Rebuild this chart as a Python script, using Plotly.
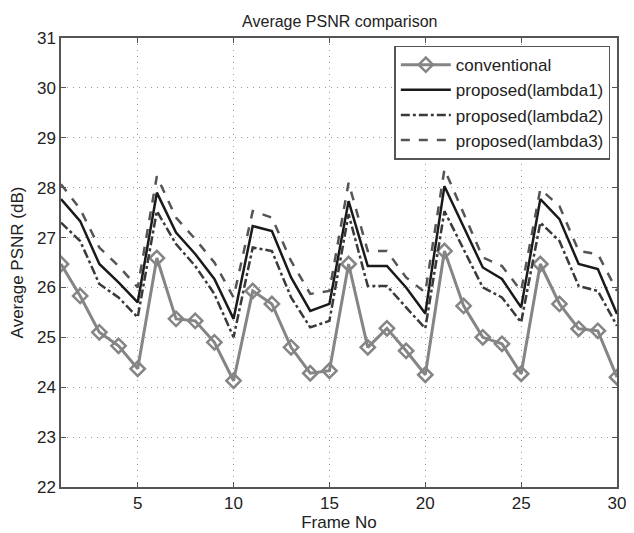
import plotly.graph_objs as go

# frame numbers
frames = list(range(1, 31))

conventional = [26.47, 25.83, 25.10, 24.83, 24.37, 26.59, 25.37, 25.33, 24.90, 24.13,
                25.93, 25.67, 24.80, 24.28, 24.33, 26.47, 24.80, 25.18, 24.73, 24.25,
                26.73, 25.63, 25.00, 24.87, 24.27, 26.47, 25.67, 25.17, 25.13, 24.20]

lambda1 = [27.77, 27.33, 26.47, 26.10, 25.70, 27.90, 27.10, 26.67, 26.17, 25.37,
           27.23, 27.13, 26.20, 25.53, 25.67, 27.73, 26.43, 26.43, 26.00, 25.48,
           28.03, 27.20, 26.40, 26.17, 25.60, 27.77, 27.37, 26.47, 26.37, 25.47]

lambda2 = [27.30, 26.93, 26.07, 25.80, 25.40, 27.53, 26.87, 26.43, 25.87, 25.00,
           26.80, 26.73, 25.80, 25.20, 25.33, 27.47, 26.03, 26.03, 25.60, 25.18,
           27.53, 26.77, 26.00, 25.80, 25.30, 27.30, 26.93, 26.03, 25.93, 25.23]

lambda3 = [28.07, 27.57, 26.80, 26.43, 26.00, 28.23, 27.40, 26.97, 26.50, 25.80,
           27.53, 27.40, 26.53, 25.87, 25.93, 28.10, 26.73, 26.73, 26.20, 25.90,
           28.37, 27.47, 26.60, 26.43, 25.93, 27.97, 27.63, 26.73, 26.67, 25.93]

xticks = [5, 10, 15, 20, 25, 30]
yticks = list(range(22, 32))

fig = go.Figure()

fig.add_trace(go.Scatter(
    x=frames, y=conventional, mode='lines+markers', name='conventional',
    line=dict(color='#858585', width=3),
    marker=dict(symbol='diamond-open', size=11, color='#858585', line=dict(width=2.5))
))
fig.add_trace(go.Scatter(
    x=frames, y=lambda1, mode='lines', name='proposed(lambda1)',
    line=dict(color='#1a1a1a', width=2.5)
))
fig.add_trace(go.Scatter(
    x=frames, y=lambda2, mode='lines', name='proposed(lambda2)',
    line=dict(color='#3a3a3a', width=2.5, dash='dashdot')
))
fig.add_trace(go.Scatter(
    x=frames, y=lambda3, mode='lines', name='proposed(lambda3)',
    line=dict(color='#555555', width=2.5, dash='dash')
))

axis_style = dict(
    showline=True, linecolor='#555555', linewidth=1.5, mirror='ticks',
    ticks='inside', ticklen=5, tickcolor='#555555',
    showgrid=True, gridcolor='#9a9a9a', griddash='1px,5px', gridwidth=1,
    zeroline=False, tickfont=dict(size=17, color='#222222')
)

# page body has an 8px margin, so the figure is 8px smaller than the window
fig.update_layout(
    title=dict(text='Average PSNR comparison', x=0.53, xanchor='center', y=0.985, yanchor='top',
               font=dict(size=16, color='#222222')),
    font=dict(family='Liberation Sans, Arial, sans-serif', color='#222222'),
    width=626, height=525,
    margin=dict(l=50, r=8, t=30, b=46),
    paper_bgcolor='white', plot_bgcolor='white',
    xaxis=dict(range=[1, 30], tickvals=xticks,
               title=dict(text='Frame No', font=dict(size=17), standoff=0), **axis_style),
    yaxis=dict(range=[22, 31], tickvals=yticks,
               title=dict(text='Average PSNR (dB)', font=dict(size=17), standoff=9), **axis_style),
    legend=dict(x=0.988, y=0.983, xanchor='right', yanchor='top',
                bgcolor='white', bordercolor='#555555', borderwidth=1.5,
                font=dict(size=17, color='#222222'), tracegroupgap=0, itemwidth=50),
    showlegend=True
)

fig.write_html("out.html")
